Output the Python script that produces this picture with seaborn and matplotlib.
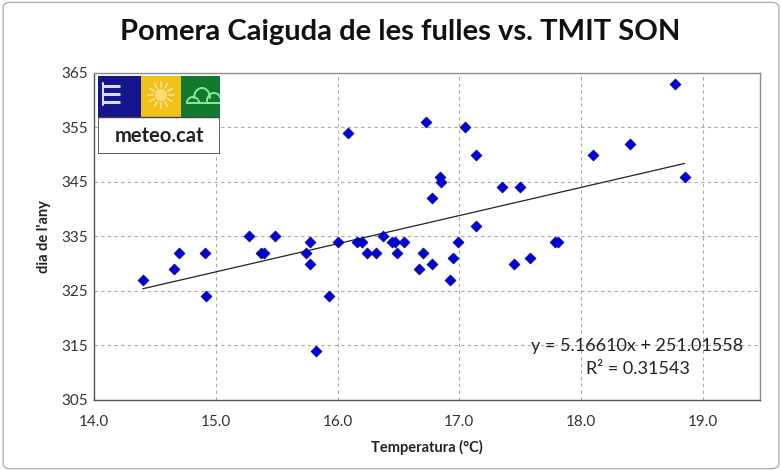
import matplotlib
matplotlib.use("Agg")
import matplotlib.pyplot as plt
import numpy as np
import pandas as pd
import seaborn as sns
from matplotlib.patches import Rectangle, Circle, FancyBboxPatch

# data
temperatura = [14.40, 14.66, 14.70, 14.91, 14.92, 15.27, 15.37, 15.40, 15.49, 15.74,
               15.77, 15.77, 15.82, 15.93, 16.00, 16.09, 16.16, 16.20, 16.24, 16.32,
               16.37, 16.45, 16.47, 16.49, 16.55, 16.67, 16.70, 16.73, 16.78, 16.78,
               16.84, 16.85, 16.92, 16.95, 16.99, 17.05, 17.14, 17.14, 17.35, 17.45,
               17.50, 17.58, 17.79, 17.81, 18.10, 18.40, 18.77, 18.85]
dia_any = [327, 329, 332, 332, 324, 335, 332, 332, 335, 332,
           334, 330, 314, 324, 334, 354, 334, 334, 332, 332,
           335, 334, 334, 332, 334, 329, 332, 356, 342, 330,
           346, 345, 327, 331, 334, 355, 350, 337, 344, 330,
           344, 331, 334, 334, 350, 352, 363, 346]
pendent = 5.16610
origen = 251.01558
r2 = 0.31543
x_ticks = [14.0, 15.0, 16.0, 17.0, 18.0, 19.0]
y_ticks = [305, 315, 325, 335, 345, 355, 365]

df = pd.DataFrame({"temp": temperatura, "dia": dia_any})

sns.set_style("white")
plt.rcParams["font.family"] = ["Lato", "DejaVu Sans"]

fig = plt.figure(figsize=(7.82, 4.71), dpi=100)
fig.patches.append(FancyBboxPatch((0.004, 0.005), 0.992, 0.99, boxstyle="round,pad=0,rounding_size=0.01",
                                  transform=fig.transFigure, fill=False, edgecolor="#b0b0b0", lw=1.0))

ax = fig.add_axes([94 / 782, 1 - 400 / 471, (760 - 94) / 782, (400 - 73) / 471])

sns.scatterplot(data=df, x="temp", y="dia", marker="D", s=30, color="#0000dd",
                edgecolor="#000090", linewidth=0.6, ax=ax, zorder=3)

# trend line
xs = np.array([min(temperatura), max(temperatura)])
ax.plot(xs, pendent * xs + origen, color="#222222", lw=0.9, zorder=2)

ax.set_xlim(14.0, 19.47)
ax.set_ylim(305, 365)
ax.set_xticks(x_ticks)
ax.set_xticklabels([f"{t:.1f}" for t in x_ticks])
ax.set_yticks(y_ticks)
ax.tick_params(axis="both", direction="inout", length=6, width=0.8, color="#555555",
               labelsize=11, labelcolor="#333333")
ax.tick_params(axis="x", pad=8)
ax.tick_params(axis="y", pad=1)
ax.grid(True, linestyle=(0, (3, 3)), color="#a8a8a8", lw=0.8)
for side in ["left", "bottom"]:
    ax.spines[side].set_color("#555555")
    ax.spines[side].set_linewidth(1.0)
for side in ["top", "right"]:
    ax.spines[side].set_color("#8c8c8c")
    ax.spines[side].set_linewidth(1.0)

ax.set_xlabel("Temperatura (°C)", fontsize=10.5, fontweight="bold", color="#222222", labelpad=8)
ax.set_ylabel("dia de l'any", fontsize=10.5, fontweight="bold", color="#222222", labelpad=8)

ax.text(0.975, 0.165, f"y = {pendent:.5f}x + {origen:.5f}", transform=ax.transAxes,
        ha="right", va="center", fontsize=13, color="#222222")
ax.text(0.895, 0.095, f"R² = {r2:.5f}", transform=ax.transAxes,
        ha="right", va="center", fontsize=13, color="#222222")

fig.suptitle("Pomera Caiguda de les fulles vs. TMIT SON", x=0.512, y=0.96,
             fontsize=21, fontweight="bold", color="#111111")

# meteo.cat logo
lg = fig.add_axes([98 / 782, 1 - 154 / 471, 122 / 782, 78 / 471])
lg.set_xlim(0, 122)
lg.set_ylim(78, 0)
lg.axis("off")
lg.add_patch(Rectangle((0, 0), 122, 78, facecolor="white", edgecolor="#444444", lw=1.2))
lg.add_patch(Rectangle((0, 0), 43, 41, facecolor="#14148c", edgecolor="none"))
lg.add_patch(Rectangle((43, 0), 40, 41, facecolor="#f2c21b", edgecolor="none"))
lg.add_patch(Rectangle((83, 0), 39, 41, facecolor="#127a2e", edgecolor="none"))
for yy in [10, 18, 26]:
    lg.plot([5, 22], [yy, yy], color="#dcdcf5", lw=2.2, solid_capstyle="butt")
lg.plot([5, 5], [7, 29], color="#dcdcf5", lw=1.5)
lg.add_patch(Circle((63, 19), 6, facecolor="#f7dc7a", edgecolor="none"))
for ang in np.linspace(0, 2 * np.pi, 12, endpoint=False):
    lg.plot([63 + 8 * np.cos(ang), 63 + 13 * np.cos(ang)],
            [19 + 8 * np.sin(ang), 19 + 13 * np.sin(ang)], color="#f7e7a3", lw=1.2)
t = np.linspace(0, np.pi, 30)
cx = [95 + 6 * np.cos(t), 104 + 8 * np.cos(t), 116 + 7 * np.cos(t)]
cy = [27 - 6 * np.sin(t), 22 - 10 * np.sin(t), 25 - 8 * np.sin(t)]
for a, b in zip(cx, cy):
    lg.plot(a, b, color="#8ee89a", lw=1.4)
lg.plot([89, 122], [27, 27], color="#8ee89a", lw=1.4)
lg.plot([0, 122], [41, 41], color="#444444", lw=1.0)
lg.text(61, 60, "meteo.cat", ha="center", va="center", fontsize=14.5,
        fontweight="bold", color="#222222")

fig.savefig("out.png", dpi=100)
